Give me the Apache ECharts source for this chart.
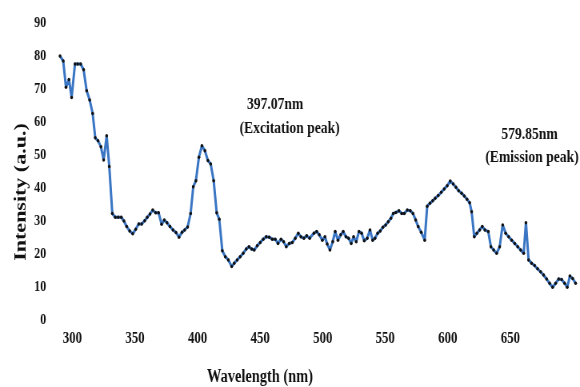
<!DOCTYPE html>
<html>
<head>
<meta charset="utf-8">
<script src="https://cdn.jsdelivr.net/npm/echarts@6/dist/echarts.min.js"></script>
<style>
html,body{margin:0;padding:0;background:#fff;overflow:hidden;width:580px;height:387px;}
#c{width:725px;height:387px;transform:scaleX(0.8);transform-origin:0 0;}
</style>
</head>
<body>
<div id="c"></div>
<script>
// Wavelength (nm)
const wavelength = [
290.1,292.7,294.9,297.3,299.4,302.1,304.2,306.6,309.0,311.4,313.8,316.2,318.3,320.5,322.8,325.0,327.4,329.5,331.9,334.3,336.7,339.1,341.2,343.4,345.8,348.2,350.6,353.0,
355.4,357.8,359.8,362.0,364.2,366.5,368.9,371.3,373.4,375.6,378.0,380.4,382.8,385.2,387.6,389.7,392.1,394.5,396.6,398.7,401.1,403.5,405.9,408.3,410.5,412.9,415.3,417.4,419.8,422.2,424.6,
427.3,429.3,431.7,434.1,436.5,438.9,441.1,443.2,445.3,447.7,450.1,452.5,454.9,457.3,459.7,462.1,464.3,466.7,468.8,470.9,473.3,475.7,478.1,480.5,482.6,485.0,487.2,489.6,
493.0,495.2,497.3,499.7,501.8,503.6,505.8,508.0,510.0,512.2,514.4,516.4,518.6,520.7,522.8,524.7,526.8,529.0,531.1,533.2,535.6,537.8,539.9,541.8,543.9,546.0,548.1,550.3,552.4,554.5,556.4,558.5,
560.9,563.1,565.2,567.6,570.0,572.1,574.3,576.3,578.7,581.5,583.5,585.7,587.9,589.9,592.3,594.7,597.1,599.5,601.9,604.3,606.5,608.6,611.0,613.1,615.3,617.4,619.0,621.1,623.2,625.4,627.5,629.6,
632.3,634.4,636.6,639.0,641.4,643.8,646.2,648.6,651.0,653.4,655.8,658.2,660.6,662.4,664.5,666.9,669.3,671.7,674.1,676.5,678.9,681.3,683.7,686.1,688.5,690.9,693.3,695.4,697.5,699.7,702.1
];
// Intensity (a.u.)
const intensity = [
80,78.5,70.5,72.9,67.4,77.6,77.6,77.6,75.8,69.5,66.7,62.6,55.2,54.3,52.5,48.5,55.8,46.5,32.3,31.1,31.1,31.1,30,28.3,27,26.1,27.5,29.1,
29.1,30.1,31.1,32.1,33.3,32.5,32.5,29,30.3,29.5,28.3,27.3,26.5,25.1,26.6,27.3,28.2,32.3,40.4,42.2,49.3,52.8,51.3,48.3,47.3,42.2,32.5,30.5,21,19.2,18.2,
16.2,17.2,18.2,19.2,20.2,21.5,22.2,21.5,21.2,22.5,23.5,24.5,25.2,25.1,24.5,24.5,23.2,24.5,23.7,22.2,23.2,23.5,24.8,26.3,25.2,24.8,25.5,24.8,
26.3,26.8,25.8,24.2,25.2,23,21.2,23.7,26.8,24.2,25.8,26.8,25.2,24.8,23.2,25.2,23.7,26.8,26.3,24,24.8,27.3,24.2,24.8,26.3,27,28.1,28.8,29.8,30.8,32.3,32.6,
33.1,32.3,32.3,33.3,33.1,32.3,30.3,28.3,26.6,24.2,34.5,35.4,36.1,36.9,37.7,38.7,39.7,40.7,42.1,41.2,40.2,39.2,38.4,37.6,36.6,35.5,32.8,25.2,26.3,27.3,28.3,27.3,
26.8,22.2,21.2,20.2,22.2,28.8,26.3,25.2,24.2,23.2,22.2,21.2,20.2,29.5,18.2,17.2,16.5,15.5,14.6,13.6,12.4,11.1,9.9,11.1,12.4,12.3,11.1,9.9,13.3,12.6,11.1
];
const xTicks = [300,350,400,450,500,550,600,650];
const yTicks = [0,10,20,30,40,50,60,70,80,90];
const xTitle = 'Wavelength (nm)';
const yTitle = 'Intensity (a.u.)';
const notes = [
  {text:'397.07nm', x:344, y:105},
  {text:'(Excitation peak)', x:362, y:129},
  {text:'579.85nm', x:662, y:135},
  {text:'(Emission peak)', x:665, y:158}
];

const FONT = '"Liberation Serif","Times New Roman",serif';
const chart = echarts.init(document.getElementById('c'));
const txt = (t, x, y, font, rot) => ({
  type:'text', x:x, y:y, rotation: rot || 0,
  style:{text:t, fill:'#111', font:font, textAlign:'center', textVerticalAlign:'middle', align:'center', verticalAlign:'middle'}
});
chart.setOption({
  animation:false,
  backgroundColor:'#fff',
  grid:{left:71.7, right:0.9, top:23, bottom:67, containLabel:false},
  xAxis:{
    type:'value', min:288, max:705,
    axisLine:{show:false}, axisTick:{show:false}, splitLine:{show:false},
    axisLabel:{customValues:xTicks, margin:11, color:'#111', fontFamily:FONT, fontWeight:'bold', fontSize:16}
  },
  yAxis:{
    type:'value', min:0, max:90, interval:10,
    axisLine:{show:false}, axisTick:{show:false}, splitLine:{show:false},
    axisLabel:{customValues:yTicks, margin:14, color:'#111', fontFamily:FONT, fontWeight:'bold', fontSize:15}
  },
  series:[{
    type:'line',
    data: wavelength.map((w,i)=>[w, intensity[i]]),
    symbol:'circle', symbolSize:3.5, showSymbol:true,
    itemStyle:{color:'#111'},
    lineStyle:{color:'#3a76c4', width:3},
    z:2
  }],
  graphic: [
    txt(xTitle, 325, 377, 'bold 18px ' + FONT),
    txt(yTitle, 26, 192, 'bold 22px ' + FONT, Math.PI/2)
  ].concat(notes.map(n => txt(n.text, n.x, n.y, 'bold 17px ' + FONT)))
});
</script>
</body>
</html>
